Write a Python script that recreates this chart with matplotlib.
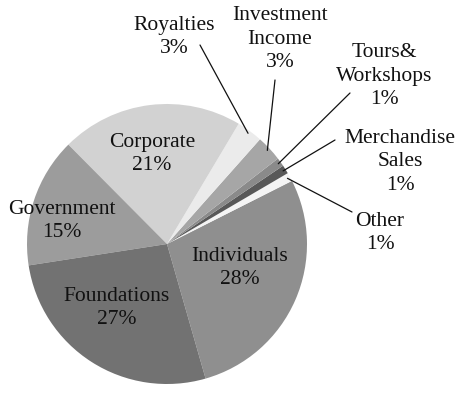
import matplotlib
matplotlib.use("Agg")
import matplotlib.pyplot as plt
import numpy as np

# Revenue sources, listed counter-clockwise starting at the lower Individuals edge
categories = ["Individuals", "Other", "Merchandise\nSales", "Tours&\nWorkshops",
              "Investment\nIncome", "Royalties", "Corporate", "Government", "Foundations"]
shares = [28, 1, 1, 1, 3, 3, 21, 15, 27]
colors = ["#8f8f8f", "#f4f4f4", "#585858", "#8a8a8a",
          "#a6a6a6", "#ebebeb", "#d2d2d2", "#9c9c9c", "#727272"]

plt.rcParams["font.family"] = ["Liberation Serif", "DejaVu Serif"]

fig = plt.figure(figsize=(4.58, 3.93), dpi=100)
ax = fig.add_axes([0, 0, 1, 1])

cx, cy, R = 167, 149, 140
wedges, _ = ax.pie(shares, colors=colors, startangle=-74, counterclock=True,
                   center=(cx, cy), radius=R, frame=True,
                   wedgeprops=dict(linewidth=0))
ax.set_xlim(0, 458)
ax.set_ylim(0, 393)
ax.set_aspect("equal")
ax.axis("off")

fs = 15.5
ls = 1.3

# labels drawn inside the large slices
inside = {
    "Individuals": (240, 125),
    "Corporate": (152, 239),
    "Government": (62, 172),
    "Foundations": (117, 85),
}
# labels outside with a leader line: text centre, line start
outside = {
    "Royalties": ((174, 356), (200, 348)),
    "Investment\nIncome": ((280, 354), (275, 313)),
    "Tours&\nWorkshops": ((384, 317), (350, 300)),
    "Merchandise\nSales": ((400, 231), (335, 253)),
    "Other": ((380, 160), (352, 181)),
}

for name, share, w in zip(categories, shares, wedges):
    label = f"{name}\n{share}%"
    if name in inside:
        x, y = inside[name]
        ax.text(x, y, label, ha="center", va="center", fontsize=fs,
                linespacing=ls, color="#111111")
    else:
        (tx, ty), (sx, sy) = outside[name]
        mid = np.deg2rad((w.theta1 + w.theta2) / 2)
        tip = (cx + 0.98 * R * np.cos(mid), cy + 0.98 * R * np.sin(mid))
        ax.text(tx, ty, label, ha="center", va="center", fontsize=fs,
                linespacing=ls, color="#111111")
        ax.annotate("", xy=tip, xytext=(sx, sy),
                    arrowprops=dict(arrowstyle="-", lw=0.9, color="#111111",
                                    shrinkA=0, shrinkB=0))

fig.savefig("out.png", dpi=100)
